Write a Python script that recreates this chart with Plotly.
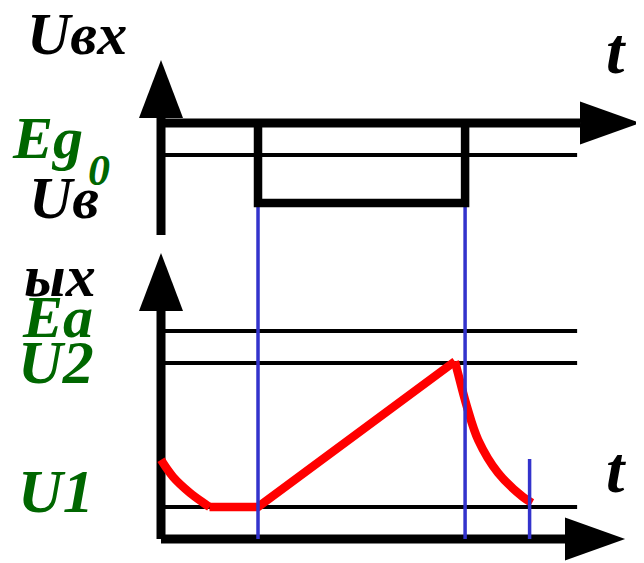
import plotly.graph_objects as go


# -----------------------------
# Data: time in arbitrary units, voltages in volts
# -----------------------------
T_PULSE_START = 2.0
T_PULSE_END = 6.27
T_RECOVERY = 7.6

# input signal levels
UIN_PULSE = -5.0      # Uв
EG0 = -2.0            # Eg0

# output levels
EA = 13.0
U2 = 11.0
U1 = 2.0
RECOVERY_MARK_U = 5.0

# output voltage
OUT_DECAY_T = [0.0, 0.25, 0.6, 0.91, 1.0]
OUT_DECAY_U = [4.95, 3.88, 2.88, 2.19, 2.0]
OUT_RAMP_T = [1.0, 2.0, 6.06]
OUT_RAMP_U = [2.0, 2.0, 11.1]
OUT_DROP_T = [6.06, 6.12, 6.31, 6.54, 6.95, 7.46, 7.65]
OUT_DROP_U = [11.1, 10.4, 8.25, 6.19, 4.13, 2.63, 2.25]


# -----------------------------
# Layout / style
# -----------------------------
# the page body keeps its default 8px margin, so the figure is 8px smaller
PAGE_MARGIN = 8
W, H = 644 - PAGE_MARGIN, 563 - PAGE_MARGIN
X_RANGE = [-3.155, 9.959]
TOP_RANGE = [-7.625, 7.1875]
BOTTOM_RANGE = [-1.5, 18.375]
SPLIT = 1 - 237 / H

LEVEL_END = 8.58
TOP_AXIS = dict(t_end=8.64, u_bottom=-7.0, u_top=0.31)
BOT_AXIS = dict(t_end=8.33, u_bottom=0.0, u_top=14.25)
HEAD_T_LEN, HEAD_U_HALF = 1.24, 1.34     # horizontal arrow head
HEAD_U_LEN, HEAD_T_HALF = 3.63, 0.454    # vertical arrow head

BLACK = "#000000"
BLUE = "#3333cc"
RED = "#ff0000"
GREEN = "#006600"
FONT = "Liberation Serif, Times New Roman, DejaVu Serif, serif"


def line(x, y, yaxis, width, color, shape="linear"):
    return go.Scatter(
        x=x, y=y, xaxis="x", yaxis=yaxis, mode="lines",
        line=dict(color=color, width=width, shape=shape),
        hoverinfo="skip", showlegend=False,
    )


def axis_arrows(ax, yref):
    # vertical axis head + horizontal axis head as filled triangles
    vt = ax["u_top"]
    ht = ax["t_end"]
    return [
        dict(type="path", xref="x", yref=yref, fillcolor=BLACK, line_width=0,
             path=f"M{-HEAD_T_HALF},{vt} L{HEAD_T_HALF},{vt} L0,{vt + HEAD_U_LEN} Z"),
        dict(type="path", xref="x", yref=yref, fillcolor=BLACK, line_width=0,
             path=f"M{ht},{-HEAD_U_HALF} L{ht},{HEAD_U_HALF} L{ht + HEAD_T_LEN},0 Z"),
    ]


def label(text, px, py, size, color=BLACK):
    # px, py are page pixels of the text's left edge / vertical middle
    return dict(
        text=text, x=(px - PAGE_MARGIN) / W, y=1 - (py - PAGE_MARGIN) / H,
        xref="paper", yref="paper",
        xanchor="left", yanchor="middle", showarrow=False,
        font=dict(family=FONT, size=size, color=color, weight="bold", style="italic"),
    )


def main():
    fig = go.Figure()

    # -----------------------------
    # Top panel: input voltage
    # -----------------------------
    for t in (T_PULSE_START, T_PULSE_END):
        fig.add_trace(line([t, t], [UIN_PULSE, TOP_RANGE[0]], "y", 3.5, BLUE))
    fig.add_trace(line([0, LEVEL_END], [EG0, EG0], "y", 4, BLACK))
    fig.add_trace(line([0, 0], [TOP_AXIS["u_bottom"], TOP_AXIS["u_top"]], "y", 9, BLACK))
    fig.add_trace(line([0, TOP_AXIS["t_end"]], [0, 0], "y", 9, BLACK))
    fig.add_trace(line(
        [T_PULSE_START, T_PULSE_START, T_PULSE_END, T_PULSE_END],
        [0, UIN_PULSE, UIN_PULSE, 0], "y", 8.5, BLACK))

    # -----------------------------
    # Bottom panel: output voltage
    # -----------------------------
    for lvl in (EA, U2, U1):
        fig.add_trace(line([0, LEVEL_END], [lvl, lvl], "y2", 4, BLACK))
    fig.add_trace(line([0, 0], [BOT_AXIS["u_bottom"], BOT_AXIS["u_top"]], "y2", 9, BLACK))
    fig.add_trace(line([0, BOT_AXIS["t_end"]], [0, 0], "y2", 9, BLACK))

    fig.add_trace(line(OUT_DECAY_T, OUT_DECAY_U, "y2", 8.5, RED, "spline"))
    fig.add_trace(line(OUT_RAMP_T, OUT_RAMP_U, "y2", 8.5, RED))
    fig.add_trace(line(OUT_DROP_T, OUT_DROP_U, "y2", 8.5, RED, "spline"))

    for t in (T_PULSE_START, T_PULSE_END):
        fig.add_trace(line([t, t], [BOTTOM_RANGE[1], 0], "y2", 3.5, BLUE))
    fig.add_trace(line([T_RECOVERY, T_RECOVERY], [RECOVERY_MARK_U, 0], "y2", 3.5, BLUE))

    annotations = [
        label("Uвх", 25, 34, 60),
        label("t", 604, 50, 66),
        label("Eg", 10, 138, 60, GREEN),
        label("0", 86, 170, 44, GREEN),
        label("Uв", 27, 198, 60),
        label("ых", 22, 276, 60),
        label("Ea", 20, 317, 60, GREEN),
        label("U2", 16, 362, 62, GREEN),
        label("U1", 16, 491, 62, GREEN),
        label("t", 604, 469, 66),
    ]

    hidden = dict(visible=False, fixedrange=True)
    fig.update_layout(
        width=W, height=H,
        margin=dict(l=0, r=0, t=0, b=0),
        paper_bgcolor="white", plot_bgcolor="white",
        xaxis=dict(range=X_RANGE, domain=[0, 1], anchor="y", **hidden),
        yaxis=dict(range=TOP_RANGE, domain=[SPLIT, 1], anchor="x", **hidden),
        yaxis2=dict(range=BOTTOM_RANGE, domain=[0, SPLIT], anchor="x", **hidden),
        shapes=axis_arrows(TOP_AXIS, "y") + axis_arrows(BOT_AXIS, "y2"),
        annotations=annotations,
        showlegend=False,
    )

    fig.write_html("out.html")
    print("Saved out.html")


if __name__ == "__main__":
    main()
